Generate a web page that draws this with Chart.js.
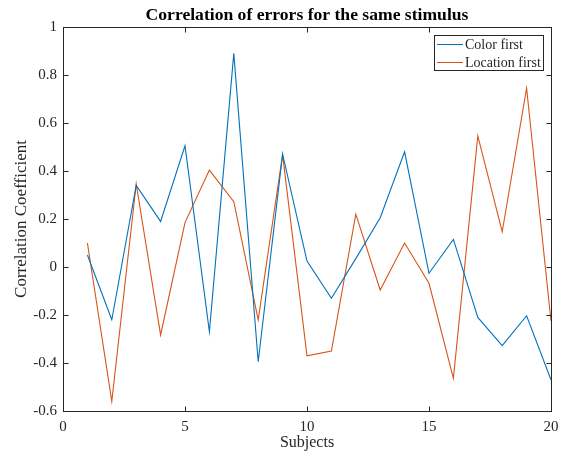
<!DOCTYPE html>
<html>
<head>
<meta charset="utf-8">
<script src="https://cdn.jsdelivr.net/npm/chart.js@4"></script>
<style>
  html, body { margin: 0; padding: 0; background: #fff; }
  #wrap { width: 562px; height: 459px; }
</style>
</head>
<body>
<div id="wrap"><canvas id="chart" width="562" height="459"></canvas></div>
<script>
const subjects = [1, 2, 3, 4, 5, 6, 7, 8, 9, 10, 11, 12, 13, 14, 15, 16, 17, 18, 19, 20]
const colorFirst = [0.05, -0.22, 0.34, 0.19, 0.505, -0.27, 0.89, -0.395, 0.47, 0.025,
  -0.13, 0.035, 0.205, 0.48, -0.026, 0.115, -0.21, -0.328, -0.203, -0.47]
const locationFirst = [0.10, -0.56, 0.346, -0.283, 0.185, 0.404, 0.272, -0.22, 0.468, -0.37,
  -0.35, 0.22, -0.096, 0.10, -0.068, -0.464, 0.546, 0.147, 0.745, -0.225]
const seriesNames = ['Color first', 'Location first']
const seriesColors = ['#0072BD', '#D95319']
const xTicks = [0, 5, 10, 15, 20]
const yTicks = [-0.6, -0.4, -0.2, 0, 0.2, 0.4, 0.6, 0.8, 1]
const chartTitle = 'Correlation of errors for the same stimulus'

const fontFamily = "'Liberation Serif', serif"
const axisColor = '#262626'

// box around the axes with inward ticks, like matlab
const axesBox = {
  id: 'axesBox',
  afterDatasetsDraw(chart) {
    const { ctx, chartArea: a, scales } = chart
    const L = Math.round(a.left) + 0.5
    const R = Math.round(a.right) + 0.5
    const T = Math.round(a.top) + 0.5
    const B = Math.round(a.bottom) + 0.5
    const len = 5
    ctx.save()
    ctx.strokeStyle = axisColor
    ctx.lineWidth = 1
    ctx.strokeRect(L, T, R - L, B - T)
    ctx.beginPath()
    xTicks.forEach(v => {
      const x = Math.round(scales.x.getPixelForValue(v)) + 0.5
      ctx.moveTo(x, B); ctx.lineTo(x, B - len)
      ctx.moveTo(x, T); ctx.lineTo(x, T + len)
    })
    yTicks.forEach(v => {
      const y = Math.round(scales.y.getPixelForValue(v)) + 0.5
      ctx.moveTo(L, y); ctx.lineTo(L + len, y)
      ctx.moveTo(R, y); ctx.lineTo(R - len, y)
    })
    ctx.stroke()
    ctx.restore()
  }
}

// title centred over the axes, not the whole canvas
const axesTitle = {
  id: 'axesTitle',
  afterDraw(chart) {
    const { ctx, chartArea: a } = chart
    ctx.save()
    ctx.font = 'bold 17.6px ' + fontFamily
    ctx.fillStyle = '#000'
    ctx.textAlign = 'center'
    ctx.textBaseline = 'alphabetic'
    ctx.fillText(chartTitle, (a.left + a.right) / 2, a.top - 7)
    ctx.restore()
  }
}

// legend box in the top right corner of the plot
const boxLegend = {
  id: 'boxLegend',
  afterDraw(chart) {
    const { ctx, chartArea: a } = chart
    ctx.save()
    ctx.font = '14px ' + fontFamily
    const textW = Math.max(...chart.data.datasets.map(d => ctx.measureText(d.label).width))
    const lineW = 26
    const w = Math.round(lineW + textW + 7)
    const rowH = 18
    const h = rowH * chart.data.datasets.length - 1
    const right = Math.round(a.right) - 8
    const left = right - w
    const top = Math.round(a.top) + 8
    ctx.fillStyle = '#fff'
    ctx.fillRect(left, top, w, h)
    ctx.strokeStyle = axisColor
    ctx.lineWidth = 1
    ctx.strokeRect(left + 0.5, top + 0.5, w, h)
    ctx.textBaseline = 'middle'
    chart.data.datasets.forEach((d, i) => {
      const y = top + 9 + rowH * i
      ctx.strokeStyle = d.borderColor
      ctx.beginPath()
      ctx.moveTo(left + 3, y + 0.5)
      ctx.lineTo(left + 3 + lineW, y + 0.5)
      ctx.stroke()
      ctx.fillStyle = axisColor
      ctx.fillText(d.label, left + 3 + lineW + 2, y + 1)
    })
    ctx.restore()
  }
}

function toPoints(values) {
  return subjects.map((s, i) => ({ x: s, y: values[i] }))
}

const chart = new Chart(document.getElementById('chart'), {
  type: 'line',
  data: {
    datasets: [
      {
        label: seriesNames[0],
        data: toPoints(colorFirst),
        borderColor: seriesColors[0],
        backgroundColor: seriesColors[0],
        borderWidth: 1.1,
        pointRadius: 0,
        tension: 0
      },
      {
        label: seriesNames[1],
        data: toPoints(locationFirst),
        borderColor: seriesColors[1],
        backgroundColor: seriesColors[1],
        borderWidth: 1.1,
        pointRadius: 0,
        tension: 0
      }
    ]
  },
  options: {
    responsive: false,
    animation: false,
    layout: { padding: { left: 0, right: 11, top: 27, bottom: 0 } },
    plugins: {
      legend: { display: false },
      tooltip: { enabled: false },
      title: { display: false }
    },
    scales: {
      x: {
        type: 'linear',
        min: 0,
        max: 20,
        afterBuildTicks: (s) => { s.ticks = xTicks.map(v => ({ value: v })) },
        afterFit: (s) => { s.height = 48; s.paddingLeft = 0; s.paddingRight = 0 },
        grid: { display: false, drawTicks: false },
        border: { display: false },
        ticks: {
          color: axisColor,
          padding: 7,
          font: { family: fontFamily, size: 15 },
          callback: (v) => String(v)
        },
        title: {
          display: true,
          text: 'Subjects',
          color: axisColor,
          font: { family: fontFamily, size: 16 },
          padding: { top: 0, bottom: 7 }
        }
      },
      y: {
        type: 'linear',
        min: -0.6,
        max: 1,
        afterBuildTicks: (s) => { s.ticks = yTicks.map(v => ({ value: v })) },
        afterFit: (s) => { s.width = 63; s.paddingTop = 0; s.paddingBottom = 0 },
        grid: { display: false, drawTicks: false },
        border: { display: false },
        ticks: {
          color: axisColor,
          padding: 6,
          font: { family: fontFamily, size: 15 },
          callback: (v) => String(Number(v.toFixed(1)))
        },
        title: {
          display: true,
          text: 'Correlation Coefficient',
          color: axisColor,
          font: { family: fontFamily, size: 17 },
          padding: { top: 11, bottom: 0 }
        }
      }
    }
  },
  plugins: [axesBox, axesTitle, boxLegend]
})
</script>
</body>
</html>
